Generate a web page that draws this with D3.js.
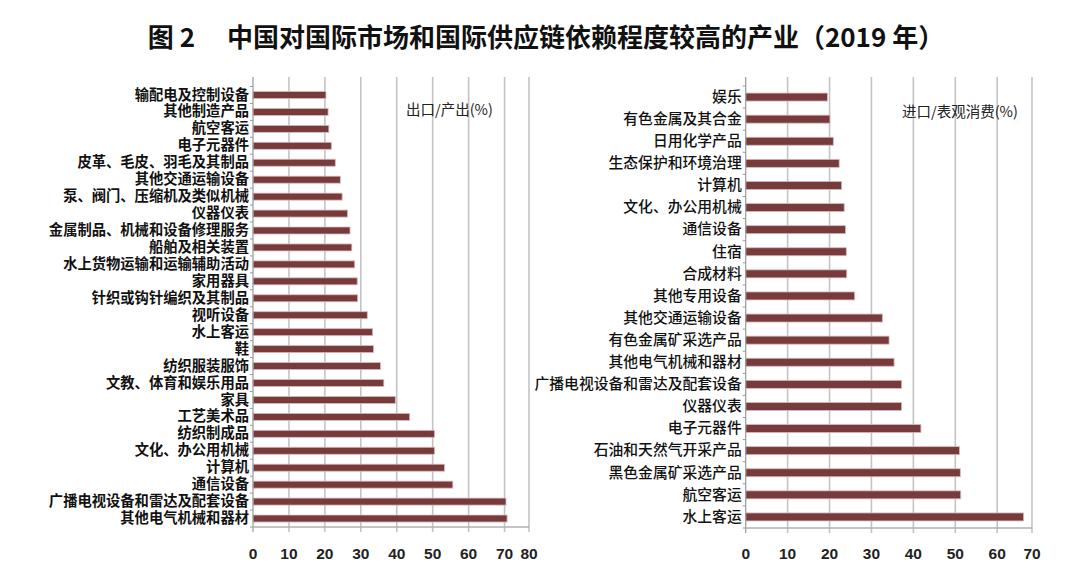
<!DOCTYPE html>
<html><head><meta charset="utf-8">
<script src="https://cdn.jsdelivr.net/npm/d3@7/dist/d3.min.js"></script>
<style>body{margin:0;background:#fff;} svg{display:block;}</style>
</head><body>
<svg id="c" width="1080" height="582"></svg>
<script>
const leftCategories = ["输配电及控制设备","其他制造产品","航空客运","电子元器件","皮革、毛皮、羽毛及其制品","其他交通运输设备","泵、阀门、压缩机及类似机械","仪器仪表","金属制品、机械和设备修理服务","船舶及相关装置","水上货物运输和运输辅助活动","家用器具","针织或钩针编织及其制品","视听设备","水上客运","鞋","纺织服装服饰","文教、体育和娱乐用品","家具","工艺美术品","纺织制成品","文化、办公用机械","计算机","通信设备","广播电视设备和雷达及配套设备","其他电气机械和器材"];
const leftValues = [20.3,20.9,21.1,21.8,22.9,24.3,24.8,26.3,27.0,27.5,28.3,29.0,29.1,31.8,33.3,33.5,35.5,36.4,39.6,43.6,50.5,50.5,53.3,55.6,70.4,70.7];
const leftTicks = ["0","10","20","30","40","50","60","70","80"];

const rightCategories = ["娱乐","有色金属及其合金","日用化学产品","生态保护和环境治理","计算机","文化、办公用机械","通信设备","住宿","合成材料","其他专用设备","其他交通运输设备","有色金属矿采选产品","其他电气机械和器材","广播电视设备和雷达及配套设备","仪器仪表","电子元器件","石油和天然气开采产品","黑色金属矿采选产品","航空客运","水上客运"];
const rightValues = [19.5,20.1,20.9,22.3,22.9,23.5,23.8,24.0,24.1,26.0,32.6,34.2,35.4,37.2,37.2,41.8,51.0,51.2,51.3,66.3];
const rightTicks = ["0","10","20","30","40","50","60","70"];

const title = "图 2\u2003 中国对国际市场和国际供应链依赖程度较高的产业（2019 年）";
const leftNote = "出口/产出(%)";
const rightNote = "进口/表观消费(%)";

const svg = d3.select("#c");
const CJK = "'Noto Sans CJK SC','Noto Sans',sans-serif";
const NUM = "'Liberation Sans Narrow','Arial Narrow','Liberation Sans',sans-serif";

svg.append("text").attr("x",546).attr("y",47).attr("text-anchor","middle")
  .attr("font-family",CJK).attr("font-weight",700).attr("font-size",26)
  .attr("fill","#111").text(title);

function panel(o){
  const g = svg.append("g");
  const x = d3.scaleLinear().domain([0,o.xMax]).range([o.x0,o.x1]);
  const y = d3.scaleBand().domain(o.cats).range([o.yTop,o.yBot]).paddingInner(0).paddingOuter(0);
  const tickVals = o.ticks.map(Number).filter(v=>v<o.xMax);
  g.selectAll("line.grid").data(tickVals.filter(v=>v>0).concat([o.xMax])).join("line")
    .attr("x1",d=>x(d)).attr("x2",d=>x(d)).attr("y1",o.gridTop).attr("y2",o.yBot+5)
    .attr("stroke","#c4c4c4").attr("stroke-width",1.6);
  const bh = o.barH;
  g.selectAll("rect.bar").data(o.vals).join("rect")
    .attr("x",x(0)).attr("y",(d,i)=>y(o.cats[i])+y.bandwidth()/2-bh/2)
    .attr("width",d=>x(d)-x(0)).attr("height",bh)
    .attr("fill","#773b3c").attr("stroke","#d9b9b9").attr("stroke-width",0.8);
  const ya = d3.axisLeft(y).tickSize(0).tickPadding(o.pad);
  const yg = g.append("g").attr("transform",`translate(${x(0)},0)`).call(ya);
  yg.select(".domain").remove();
  yg.selectAll("text").attr("font-family",CJK).attr("font-size",o.fs).attr("font-weight",o.fw).attr("fill","#111");
  g.append("line").attr("x1",x(0)).attr("x2",x(0)).attr("y1",o.gridTop).attr("y2",o.yBot+5)
    .attr("stroke","#999").attr("stroke-width",1.2);
  g.selectAll("line.ct").data(d3.range(o.cats.length+1)).join("line")
    .attr("x1",x(0)-3).attr("x2",x(0))
    .attr("y1",i=>o.yTop+i*y.step()).attr("y2",i=>o.yTop+i*y.step())
    .attr("stroke","#999").attr("stroke-width",1);
  g.append("line").attr("x1",x(0)).attr("x2",x(o.xMax)).attr("y1",o.yBot).attr("y2",o.yBot)
    .attr("stroke","#b0b0b0").attr("stroke-width",1.4);
  g.selectAll("text.tl").data(o.ticks).join("text")
    .attr("x",d=>Number(d)<o.xMax ? x(Number(d)) : x(o.xMax))
    .attr("y",559).attr("text-anchor","middle")
    .attr("font-family",NUM).attr("font-weight",700).attr("font-size",15.5).attr("fill","#222")
    .text(d=>d);
  g.append("text").attr("x",o.noteX).attr("y",o.noteY).attr("font-family",CJK)
    .attr("font-size",14.5).attr("fill","#222").text(o.note);
}

panel({cats:leftCategories, vals:leftValues, ticks:leftTicks, xMax:76.8,
  x0:253, x1:529, yTop:86.5, yBot:527, gridTop:77, barH:7, fs:14.3, fw:700, pad:4,
  note:leftNote, noteX:406, noteY:115});
panel({cats:rightCategories, vals:rightValues, ticks:rightTicks, xMax:68.3,
  x0:745.7, x1:1032, yTop:86, yBot:528, gridTop:77, barH:8, fs:14.8, fw:500, pad:4,
  note:rightNote, noteX:902, noteY:117});
</script>
</body></html>
